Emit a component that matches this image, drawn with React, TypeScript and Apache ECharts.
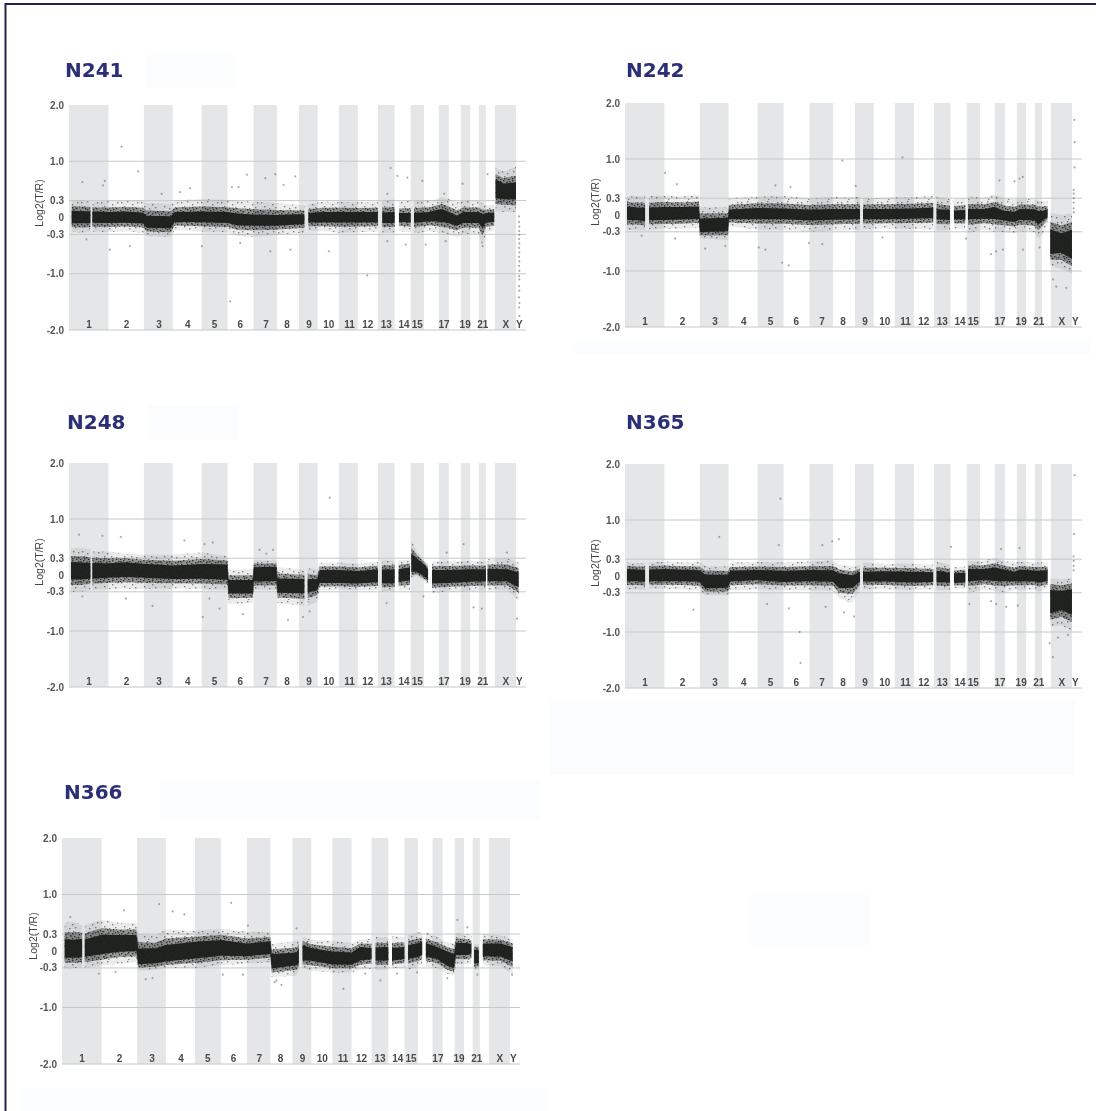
import React, { useEffect, useRef } from "react";
import * as echarts from "echarts";

// Chromosome layout, in genome units along the x axis
const chromStarts = [0, 118, 224, 310, 397, 474, 552, 622, 688, 744, 807, 864, 924, 974, 1022, 1062, 1106, 1136, 1172, 1200, 1226, 1247, 1274, 1337, 1367];
const shadedChroms = [0, 2, 4, 6, 8, 10, 12, 14, 16, 18, 20, 22];
const chromLabels = ["1", "2", "3", "4", "5", "6", "7", "8", "9", "10", "11", "12", "13", "14", "15", "17", "19", "21", "X", "Y"];
const chromLabelPos = [60, 172, 269, 355, 435, 512, 589, 652, 718, 777, 839, 894, 949, 1002, 1042, 1122, 1185, 1238, 1307, 1347];
const yTicks = [2, 1, 0.3, 0, -0.3, -1, -2];
const yTickLabels = ["2.0", "1.0", "0.3", "0", "-0.3", "-1.0", "-2.0"];
const refLines = [1, 0.3, -0.3, -1, -2];

// Density envelope of the log2 ratio cloud. Each row: x, outer low, core low, core high, outer high
type Row = number[];
const n241Band: Row[][] = [
  [[8, -0.24, -0.13, 0.15, 0.3], [36, -0.27, -0.13, 0.14, 0.31], [64, -0.26, -0.13, 0.14, 0.28]],
  [[70, -0.25, -0.12, 0.13, 0.27], [118, -0.26, -0.12, 0.12, 0.29], [170, -0.24, -0.12, 0.13, 0.3], [222, -0.27, -0.13, 0.11, 0.3], [232, -0.33, -0.21, 0.06, 0.26], [305, -0.34, -0.22, 0.05, 0.24], [316, -0.22, -0.1, 0.12, 0.3], [395, -0.25, -0.11, 0.13, 0.33], [474, -0.26, -0.12, 0.12, 0.31], [505, -0.33, -0.17, 0.1, 0.3], [552, -0.34, -0.17, 0.08, 0.28], [622, -0.31, -0.17, 0.07, 0.26], [670, -0.28, -0.15, 0.08, 0.23], [704, -0.27, -0.14, 0.08, 0.22]],
  [[716, -0.24, -0.11, 0.1, 0.24], [760, -0.24, -0.11, 0.12, 0.28], [807, -0.27, -0.11, 0.12, 0.28], [864, -0.26, -0.11, 0.12, 0.27], [924, -0.25, -0.11, 0.12, 0.28]],
  [[937, -0.27, -0.12, 0.11, 0.3], [974, -0.27, -0.12, 0.12, 0.32]],
  [[987, -0.24, -0.1, 0.1, 0.28], [1022, -0.26, -0.11, 0.1, 0.3]],
  [[1032, -0.28, -0.11, 0.1, 0.3], [1075, -0.25, -0.09, 0.12, 0.31], [1085, -0.25, -0.09, 0.14, 0.3], [1115, -0.27, -0.11, 0.18, 0.36], [1136, -0.3, -0.13, 0.13, 0.33], [1160, -0.35, -0.17, 0.06, 0.27], [1180, -0.29, -0.12, 0.12, 0.3], [1225, -0.3, -0.12, 0.12, 0.3], [1237, -0.5, -0.22, 0.09, 0.25], [1247, -0.28, -0.11, 0.1, 0.22], [1272, -0.22, -0.1, 0.11, 0.22]],
  [[1276, 0.12, 0.3, 0.72, 0.88], [1300, 0.1, 0.29, 0.64, 0.82], [1337, 0.1, 0.28, 0.66, 0.9]],
];
const n242Band: Row[][] = [
  [[6, -0.27, -0.12, 0.18, 0.33], [36, -0.27, -0.12, 0.16, 0.34], [60, -0.28, -0.14, 0.16, 0.33]],
  [[72, -0.26, -0.12, 0.16, 0.34], [118, -0.24, -0.12, 0.17, 0.35], [170, -0.25, -0.11, 0.17, 0.33], [221, -0.22, -0.1, 0.18, 0.36], [224, -0.42, -0.34, -0.03, 0.14], [308, -0.45, -0.32, -0.02, 0.14], [311, -0.2, -0.1, 0.12, 0.3], [395, -0.26, -0.1, 0.15, 0.33], [474, -0.27, -0.1, 0.14, 0.34], [552, -0.3, -0.12, 0.12, 0.3], [622, -0.28, -0.11, 0.13, 0.32], [703, -0.27, -0.1, 0.13, 0.32]],
  [[712, -0.25, -0.1, 0.13, 0.3], [780, -0.24, -0.1, 0.13, 0.31], [860, -0.25, -0.09, 0.14, 0.32], [922, -0.26, -0.08, 0.16, 0.34]],
  [[932, -0.28, -0.1, 0.13, 0.33], [972, -0.27, -0.11, 0.11, 0.28]],
  [[984, -0.24, -0.1, 0.1, 0.28], [1018, -0.26, -0.1, 0.11, 0.3]],
  [[1026, -0.32, -0.1, 0.13, 0.33], [1075, -0.26, -0.09, 0.13, 0.31], [1105, -0.3, -0.1, 0.17, 0.36], [1136, -0.31, -0.12, 0.1, 0.3], [1165, -0.33, -0.15, 0.08, 0.28], [1180, -0.29, -0.11, 0.13, 0.3], [1225, -0.31, -0.13, 0.13, 0.29], [1237, -0.42, -0.2, 0.1, 0.25], [1250, -0.34, -0.12, 0.1, 0.25], [1264, -0.14, -0.06, 0.12, 0.24]],
  [[1272, -0.9, -0.75, -0.2, 0.04], [1305, -0.96, -0.72, -0.28, 0.0], [1337, -1.05, -0.85, -0.2, 0.02]],
];
const n248Band: Row[][] = [
  [[6, -0.3, -0.12, 0.27, 0.47], [36, -0.3, -0.12, 0.26, 0.48], [64, -0.27, -0.1, 0.25, 0.45]],
  [[70, -0.26, -0.1, 0.25, 0.42], [118, -0.26, -0.08, 0.24, 0.42], [170, -0.25, -0.07, 0.26, 0.38], [224, -0.25, -0.08, 0.23, 0.36], [310, -0.24, -0.1, 0.2, 0.36], [397, -0.25, -0.1, 0.23, 0.4], [474, -0.27, -0.12, 0.22, 0.34], [477, -0.52, -0.36, -0.06, 0.1], [550, -0.5, -0.36, -0.06, 0.1], [553, -0.26, -0.15, 0.17, 0.27], [620, -0.27, -0.14, 0.18, 0.26], [624, -0.5, -0.35, -0.03, 0.14], [700, -0.55, -0.36, -0.04, 0.1], [704, -0.55, -0.36, -0.04, 0.1]],
  [[714, -0.55, -0.34, -0.04, 0.12], [742, -0.48, -0.3, -0.05, 0.1], [750, -0.27, -0.17, 0.12, 0.22], [810, -0.26, -0.17, 0.12, 0.22], [865, -0.27, -0.18, 0.1, 0.2], [924, -0.27, -0.16, 0.13, 0.24]],
  [[936, -0.29, -0.18, 0.13, 0.26], [974, -0.29, -0.18, 0.13, 0.26]],
  [[986, -0.28, -0.15, 0.13, 0.27], [1020, -0.27, -0.13, 0.17, 0.27]],
  [[1024, -0.05, 0.02, 0.42, 0.62], [1040, -0.02, 0.03, 0.33, 0.42], [1065, -0.12, -0.06, 0.2, 0.25], [1074, -0.17, -0.12, 0.12, 0.2]],
  [[1086, -0.32, -0.18, 0.12, 0.24], [1136, -0.29, -0.17, 0.12, 0.24], [1200, -0.29, -0.15, 0.13, 0.25], [1247, -0.28, -0.14, 0.13, 0.24]],
  [[1252, -0.28, -0.14, 0.14, 0.28], [1310, -0.27, -0.14, 0.13, 0.3], [1345, -0.45, -0.25, 0.08, 0.22]],
];
const n365Band: Row[][] = [
  [[6, -0.24, -0.12, 0.15, 0.25], [36, -0.24, -0.12, 0.14, 0.23], [60, -0.25, -0.13, 0.14, 0.23]],
  [[72, -0.22, -0.12, 0.14, 0.24], [118, -0.23, -0.12, 0.15, 0.26], [170, -0.24, -0.12, 0.14, 0.24], [222, -0.26, -0.13, 0.13, 0.25], [240, -0.34, -0.25, 0.06, 0.18], [308, -0.35, -0.24, 0.05, 0.17], [315, -0.26, -0.12, 0.12, 0.24], [395, -0.24, -0.1, 0.13, 0.25], [474, -0.25, -0.13, 0.12, 0.24], [552, -0.26, -0.12, 0.13, 0.26], [622, -0.26, -0.13, 0.13, 0.28], [640, -0.4, -0.25, 0.08, 0.2], [680, -0.48, -0.24, 0.04, 0.18], [703, -0.24, -0.12, 0.1, 0.2]],
  [[712, -0.23, -0.12, 0.1, 0.24], [780, -0.24, -0.12, 0.11, 0.22], [860, -0.25, -0.14, 0.1, 0.22], [922, -0.24, -0.13, 0.09, 0.2]],
  [[932, -0.26, -0.13, 0.12, 0.25], [972, -0.25, -0.14, 0.08, 0.2]],
  [[984, -0.22, -0.14, 0.07, 0.16], [1018, -0.23, -0.14, 0.08, 0.17]],
  [[1026, -0.3, -0.12, 0.15, 0.26], [1075, -0.24, -0.1, 0.15, 0.28], [1105, -0.27, -0.12, 0.18, 0.32], [1136, -0.3, -0.12, 0.14, 0.27], [1165, -0.25, -0.12, 0.1, 0.24], [1180, -0.25, -0.12, 0.14, 0.26], [1225, -0.24, -0.12, 0.12, 0.24], [1237, -0.28, -0.14, 0.12, 0.24], [1264, -0.22, -0.12, 0.13, 0.24]],
  [[1272, -0.9, -0.72, -0.2, -0.04], [1305, -0.88, -0.65, -0.22, -0.06], [1337, -0.98, -0.75, -0.18, -0.04]],
];
const n366Band: Row[][] = [
  [[8, -0.31, -0.16, 0.25, 0.5], [36, -0.3, -0.16, 0.24, 0.52], [60, -0.29, -0.15, 0.26, 0.45]],
  [[68, -0.3, -0.14, 0.24, 0.46], [118, -0.26, -0.1, 0.33, 0.55], [170, -0.22, -0.05, 0.32, 0.5], [222, -0.2, -0.04, 0.32, 0.5], [228, -0.35, -0.27, 0.08, 0.3], [280, -0.33, -0.25, 0.08, 0.28], [310, -0.3, -0.22, 0.14, 0.38], [397, -0.3, -0.17, 0.2, 0.36], [474, -0.25, -0.12, 0.23, 0.4], [552, -0.22, -0.12, 0.16, 0.34], [622, -0.2, -0.08, 0.2, 0.33], [626, -0.46, -0.34, -0.02, 0.12], [700, -0.44, -0.28, 0.0, 0.18], [707, -0.34, -0.24, 0.08, 0.2]],
  [[718, -0.3, -0.2, 0.14, 0.25], [744, -0.35, -0.2, 0.08, 0.2], [807, -0.38, -0.27, 0.02, 0.18], [864, -0.38, -0.27, 0.0, 0.14], [890, -0.33, -0.2, 0.1, 0.2], [924, -0.32, -0.17, 0.08, 0.22]],
  [[936, -0.33, -0.2, 0.09, 0.25], [974, -0.33, -0.2, 0.1, 0.24]],
  [[985, -0.3, -0.2, 0.08, 0.27], [1022, -0.3, -0.17, 0.1, 0.25]],
  [[1033, -0.33, -0.17, 0.13, 0.28], [1065, -0.27, -0.13, 0.17, 0.33], [1075, -0.22, -0.1, 0.2, 0.33]],
  [[1086, -0.28, -0.13, 0.17, 0.33], [1120, -0.3, -0.17, 0.1, 0.25], [1150, -0.4, -0.3, 0.03, 0.15], [1170, -0.44, -0.33, -0.02, 0.14], [1176, -0.23, -0.1, 0.17, 0.32], [1210, -0.24, -0.1, 0.17, 0.3], [1222, -0.22, -0.08, 0.14, 0.28]],
  [[1230, -0.33, -0.25, 0.05, 0.12], [1244, -0.33, -0.25, 0.05, 0.12]],
  [[1256, -0.25, -0.12, 0.16, 0.3], [1310, -0.27, -0.13, 0.16, 0.28], [1345, -0.42, -0.22, 0.1, 0.2]],
];

// Stray points: [x, log2 ratio]
const n241Dots = [[157, 1.26], [207, 0.82], [40, 0.63], [107, 0.65], [102, 0.57], [532, 0.76], [587, 0.7], [617, 0.77], [677, 0.73], [642, 0.58], [962, 0.88], [982, 0.74], [1012, 0.71], [1057, 0.65], [1177, 0.6], [1252, 0.77], [332, 0.45], [362, 0.52], [487, 0.54], [507, 0.54], [952, 0.42], [1122, 0.42], [277, 0.42], [482, -1.49], [777, -0.6], [892, -1.03], [122, -0.57], [182, -0.51], [52, -0.39], [602, -0.6], [662, -0.57], [952, -0.42], [1007, -0.48], [1067, -0.48], [1237, -0.51], [397, -0.51], [512, -0.45], [1127, -0.42], [1346, 0.02], [1346, -0.08], [1347, -0.16], [1346, -0.24], [1347, -0.31], [1346, -0.38], [1347, -0.46], [1346, -0.54], [1347, -0.62], [1346, -0.7], [1347, -0.78], [1346, -0.86], [1347, -0.95], [1346, -1.04], [1347, -1.1], [1346, -1.22], [1347, -1.3], [1346, -1.42], [1347, -1.52], [1346, -1.6], [1347, -1.75]];
const n242Dots = [[120, 0.75], [155, 0.55], [450, 0.53], [495, 0.5], [650, 0.97], [1345, 0.85], [1180, 0.65], [1190, 0.68], [1165, 0.6], [1120, 0.62], [690, 0.52], [830, 1.03], [400, -0.58], [420, -0.62], [470, -0.85], [490, -0.9], [550, -0.5], [590, -0.52], [240, -0.6], [300, -0.55], [770, -0.4], [1095, -0.7], [1110, -0.65], [1130, -0.62], [1190, -0.62], [1280, -1.15], [1290, -1.28], [1320, -1.3], [1345, 1.3], [1342, 0.45], [1342, 0.38], [1342, 0.3], [1342, 0.22], [1342, 0.12], [1342, 0.05], [1344, 1.7], [1240, -0.58], [1020, -0.42], [150, -0.42], [50, -0.37]];
const n248Dots = [[780, 1.38], [30, 0.72], [100, 0.7], [155, 0.68], [345, 0.62], [405, 0.55], [430, 0.58], [570, 0.45], [1180, 0.55], [1310, 0.4], [250, -0.55], [420, -0.42], [400, -0.75], [450, -0.6], [520, -0.7], [655, -0.8], [700, -0.75], [720, -0.65], [950, -0.5], [1210, -0.58], [1235, -0.6], [1340, -0.78], [170, -0.42], [40, -0.38], [610, 0.45], [590, 0.38], [1060, -0.38], [1130, 0.4]];
const n365Dots = [[465, 1.38], [282, 0.7], [640, 0.66], [620, 0.62], [590, 0.55], [460, 0.55], [975, 0.52], [1180, 0.5], [1125, 0.48], [1345, 1.8], [1343, 0.75], [1342, 0.35], [1342, 0.27], [1342, 0.18], [1342, 0.1], [205, -0.6], [425, -0.5], [490, -0.58], [522, -1.0], [525, -1.55], [655, -0.65], [685, -0.72], [600, -0.55], [1270, -1.2], [1280, -1.45], [1295, -1.1], [1325, -1.05], [1175, -0.53], [1030, -0.5], [1095, -0.45], [1110, -0.5], [1140, -0.55]];
const n366Dots = [[290, 0.83], [330, 0.7], [365, 0.65], [505, 0.85], [185, 0.72], [555, 0.45], [25, 0.6], [1180, 0.55], [1210, 0.42], [700, 0.4], [655, -0.6], [635, -0.55], [640, -0.52], [250, -0.5], [270, -0.48], [160, -0.37], [110, -0.4], [480, -0.42], [540, -0.42], [840, -0.67], [950, -0.52], [1000, -0.4], [1060, -0.38], [1150, -0.48], [1240, -0.42], [1343, -0.42], [905, -0.4]];

const panelNames = ["N241", "N242", "N248", "N365", "N366"];
const panelBands = [n241Band, n242Band, n248Band, n365Band, n366Band];
const panelDots = [n241Dots, n242Dots, n248Dots, n365Dots, n366Dots];
const panelBoxes = [
  { left: 69, top: 105, width: 457, height: 225, titleX: 65, titleY: 70, axisTitleX: 39, axisTitleY: 203 },
  { left: 625, top: 103, width: 457, height: 224, titleX: 626, titleY: 70, axisTitleX: 595, axisTitleY: 202 },
  { left: 69, top: 463, width: 457, height: 224, titleX: 67, titleY: 422, axisTitleX: 39, axisTitleY: 562 },
  { left: 625, top: 464, width: 457, height: 224, titleX: 626, titleY: 422, axisTitleX: 595, axisTitleY: 563 },
  { left: 62, top: 838, width: 458, height: 226, titleX: 64, titleY: 792, axisTitleX: 33, axisTitleY: 936 },
];
const paleBlocks = [
  [145, 55, 88, 33], [148, 405, 90, 35], [160, 780, 380, 40], [550, 700, 525, 75],
  [748, 895, 122, 50], [20, 1088, 525, 23], [575, 340, 515, 15],
];

// Hand-placed specks of one repeating texture tile, used for the loose edge of the clouds
const speckSparse = [[1, 2], [7, 1], [12, 4], [17, 2], [4, 6], [9, 8], [15, 7], [2, 11], [7, 13], [13, 11], [18, 12], [4, 16], [11, 16], [16, 17], [8, 19]];
const speckDense = [[0, 1], [3, 0], [6, 2], [9, 1], [12, 0], [15, 2], [18, 1], [1, 4], [4, 5], [7, 4], [11, 3], [14, 5], [17, 4], [2, 7], [5, 8], [9, 6], [12, 7], [16, 8], [19, 6], [0, 10], [3, 11], [7, 9], [10, 10], [13, 9], [17, 11], [1, 13], [5, 14], [8, 12], [12, 13], [15, 12], [19, 14], [3, 16], [6, 17], [10, 15], [14, 16], [18, 17], [0, 19], [4, 18], [8, 19], [12, 18], [16, 19]];

const tileUrl = (specks: number[][]) =>
  "data:image/svg+xml;utf8," +
  encodeURIComponent(
    `<svg xmlns="http://www.w3.org/2000/svg" width="20" height="20">` +
      specks.map(([x, y]) => `<rect x="${x}" y="${y}" width="1.4" height="1.4" fill="#1b1d1b"/>`).join("") +
      `</svg>`
  );
const sparseFill = { image: tileUrl(speckSparse), repeat: "repeat", imageWidth: 20, imageHeight: 20 };
const denseFill = { image: tileUrl(speckDense), repeat: "repeat", imageWidth: 20, imageHeight: 20 };

const X_MAX = chromStarts[chromStarts.length - 1];

function buildOption() {
  const grid: any[] = [];
  const xAxis: any[] = [];
  const yAxis: any[] = [];
  const series: any[] = [];
  const graphic: any[] = [];

  paleBlocks.forEach(([x, y, w, h]) => {
    graphic.push({ type: "rect", z: -10, silent: true, shape: { x, y, width: w, height: h }, style: { fill: "#fbfcfe" } });
  });
  graphic.push({
    type: "polyline", silent: true, z: 100,
    shape: { points: [[5.5, 1111], [5.5, 4], [1096, 4]] },
    style: { fill: "none", stroke: "#23234f", lineWidth: 2 },
  });

  panelBoxes.forEach((box, i) => {
    grid.push({ left: box.left, top: box.top, width: box.width, height: box.height });
    xAxis.push({
      type: "value", gridIndex: i, min: 0, max: X_MAX, z: 6,
      splitLine: { show: false }, axisLine: { show: false }, axisTick: { show: false },
      axisLabel: {
        inside: true, margin: 1, customValues: chromLabelPos,
        formatter: (v: number) => chromLabels[chromLabelPos.indexOf(v)] ?? "",
        fontFamily: "Liberation Sans", fontSize: 10, fontWeight: "bold", color: "#4a4a4a",
      },
    });
    yAxis.push({
      type: "value", gridIndex: i, min: -2, max: 2, z: 6,
      splitLine: { show: false }, axisLine: { show: false }, axisTick: { show: false },
      axisLabel: {
        margin: 5, customValues: yTicks,
        formatter: (v: number) => yTickLabels[yTicks.indexOf(v)] ?? "",
        fontFamily: "Liberation Sans", fontSize: 10, fontWeight: "bold", color: "#555",
      },
    });

    series.push({
      type: "custom", xAxisIndex: i, yAxisIndex: i, z: 1, silent: true, clip: false,
      data: shadedChroms.map((c) => [chromStarts[c], chromStarts[c + 1]]),
      renderItem: (_: any, api: any) => {
        const a = api.coord([api.value(0), 2]);
        const b = api.coord([api.value(1), -2]);
        return { type: "rect", shape: { x: a[0], y: a[1], width: b[0] - a[0], height: b[1] - a[1] }, style: { fill: "#e4e6e8" } };
      },
    });
    series.push({
      type: "custom", xAxisIndex: i, yAxisIndex: i, z: 2, silent: true, clip: false,
      data: refLines.map((v) => [0, v]),
      renderItem: (_: any, api: any) => {
        const a = api.coord([0, api.value(1)]);
        const b = api.coord([X_MAX, api.value(1)]);
        return { type: "line", shape: { x1: a[0], y1: a[1], x2: b[0], y2: b[1] }, style: { stroke: "#c6c9c9", lineWidth: 1 } };
      },
    });
    const band = panelBands[i];
    series.push({
      type: "custom", xAxisIndex: i, yAxisIndex: i, z: 3, silent: true, clip: false,
      data: band.map((seg) => [seg[0][0], seg[0][1]]),
      renderItem: (params: any, api: any) => {
        const seg = band[params.dataIndex];
        const poly = (lo: (r: Row) => number, hi: (r: Row) => number, fill: any, opacity: number) => ({
          type: "polygon",
          shape: {
            points: [
              ...seg.map((r) => api.coord([r[0], hi(r)])),
              ...seg.slice().reverse().map((r) => api.coord([r[0], lo(r)])),
            ],
          },
          style: { fill, opacity },
        });
        const midLo = (r: Row) => (r[1] + r[2] * 2) / 3;
        const midHi = (r: Row) => (r[3] * 2 + r[4]) / 3;
        return {
          type: "group",
          children: [
            poly((r) => r[1], (r) => r[4], "#3a3d3a", 0.1),
            poly((r) => r[1], (r) => r[4], sparseFill, 0.5),
            poly(midLo, midHi, "#2a2c2a", 0.45),
            poly(midLo, midHi, denseFill, 0.8),
            poly((r) => r[2] * 0.9 + r[3] * 0.1, (r) => r[3] * 0.9 + r[2] * 0.1, "#1b1d1b", 0.95),
          ],
        };
      },
    });
    series.push({
      type: "scatter", xAxisIndex: i, yAxisIndex: i, z: 4, silent: true,
      data: panelDots[i], symbolSize: 2, itemStyle: { color: "#555", opacity: 0.5 },
    });

    graphic.push({
      type: "text", x: box.titleX, y: box.titleY, silent: true,
      style: { text: panelNames[i], fontFamily: "DejaVu Sans", fontWeight: "bold", fontSize: 20, fill: "#2b2f78", verticalAlign: "middle" },
    });
    graphic.push({
      type: "text", x: box.axisTitleX, y: box.axisTitleY, rotation: Math.PI / 2, silent: true,
      style: { text: "Log2(T/R)", fontFamily: "Liberation Sans", fontSize: 10.5, fill: "#444", align: "center", verticalAlign: "middle" },
    });
  });

  return { animation: false, backgroundColor: "#fff", grid, xAxis, yAxis, series, graphic };
}

export default function App() {
  const ref = useRef<HTMLDivElement>(null);
  useEffect(() => {
    document.body.style.margin = "0";
    const chart = echarts.init(ref.current!, undefined, { renderer: "svg" });
    chart.setOption(buildOption() as any);
    return () => chart.dispose();
  }, []);
  return <div ref={ref} style={{ width: 1096, height: 1111, filter: "blur(0.7px)" }} />;
}
